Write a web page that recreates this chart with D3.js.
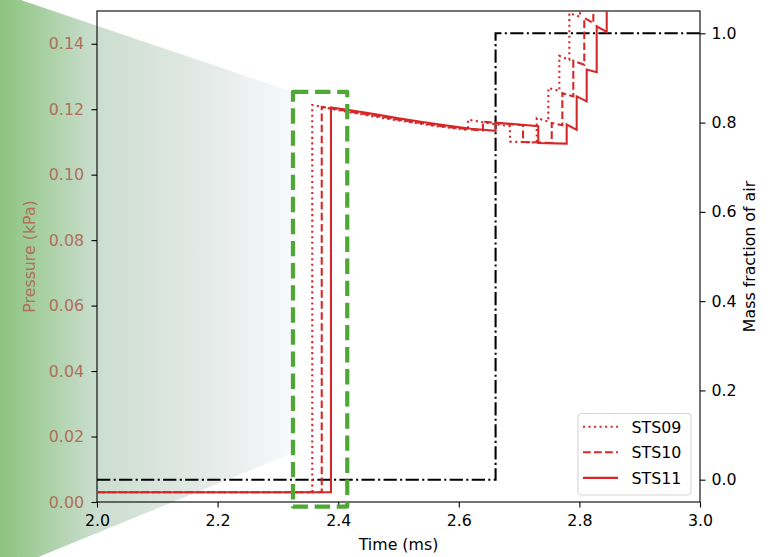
<!DOCTYPE html>
<html>
<head>
<meta charset="utf-8">
<script src="https://cdn.jsdelivr.net/npm/d3@7"></script>
<style>
  body { margin: 0; background: #fff; }
  svg { display: block; font-family: "DejaVu Sans", sans-serif; }
</style>
</head>
<body>
<div class="svg-container"></div>
<script>
// values
const timeTicks = [2.0, 2.2, 2.4, 2.6, 2.8, 3.0];
const pressureTicks = [0, 0.02, 0.04, 0.06, 0.08, 0.10, 0.12, 0.14];
const fractionTicks = [0, 0.2, 0.4, 0.6, 0.8, 1.0];

const seriesNames = ["STS09", "STS10", "STS11"];

const sts09Time = [2.0, 2.357, 2.357, 2.40, 2.44, 2.48, 2.52, 2.56, 2.60, 2.6153, 2.6153, 2.65, 2.6849, 2.6849, 2.7292, 2.7292, 2.7485, 2.7485, 2.7667, 2.7667, 2.7833, 2.7833, 2.801, 2.801, 3.0];
const sts09Pressure = [0.003, 0.003, 0.1213, 0.1197, 0.1184, 0.1171, 0.1160, 0.1149, 0.1140, 0.1137, 0.1168, 0.1157, 0.1148, 0.1101, 0.1098, 0.1173, 0.1162, 0.1265, 0.1256, 0.1363, 0.1351, 0.1494, 0.1482, 0.17, 0.17];

const sts10Time = [2.0, 2.3727, 2.3727, 2.42, 2.46, 2.50, 2.54, 2.58, 2.62, 2.640, 2.640, 2.68, 2.7065, 2.7065, 2.7541, 2.7541, 2.7717, 2.7717, 2.7899, 2.7899, 2.8081, 2.8081, 2.8231, 2.8231, 3.0];
const sts10Pressure = [0.003, 0.003, 0.1207, 0.1193, 0.1181, 0.1168, 0.1157, 0.1146, 0.1138, 0.1135, 0.1162, 0.1155, 0.1151, 0.1100, 0.1097, 0.1158, 0.1151, 0.1249, 0.1239, 0.1348, 0.1336, 0.1479, 0.1463, 0.17, 0.17];

const sts11Time = [2.0, 2.388, 2.388, 2.42, 2.46, 2.50, 2.54, 2.58, 2.62, 2.661, 2.661, 2.70, 2.7318, 2.7318, 2.7789, 2.7789, 2.7955, 2.7955, 2.8121, 2.8121, 2.8287, 2.8287, 2.8453, 2.8453, 3.0];
const sts11Pressure = [0.003, 0.003, 0.1205, 0.1197, 0.1185, 0.1172, 0.1161, 0.1150, 0.1140, 0.1134, 0.1159, 0.1153, 0.1148, 0.1097, 0.1095, 0.1153, 0.1137, 0.1239, 0.1224, 0.1321, 0.1313, 0.1453, 0.1436, 0.17, 0.17];

const airTime = [2.0, 2.661, 2.661, 3.0];
const airFraction = [0, 0, 1, 1];

// highlighted region and the fading wedge pointing at it
const zoomBoxTime = [2.325, 2.415];
const zoomBoxPressure = [-0.0014, 0.1253];
const wedgeTime = [1.839, 2.325, 2.325, 1.839];
const wedgePressure = [0.1555, 0.1253, 0.0150, -0.0216];

const width = 770, height = 557;
const margin = {top: 11, right: 70, bottom: 55, left: 97};
const red = "#d62728";
const brown = "#b0705a";
const fontSize = 15.8;

const svg = d3.select("div.svg-container").append("svg")
    .attr("width", width)
    .attr("height", height);

const x = d3.scaleLinear().domain([2.0, 3.0]).range([margin.left, width - margin.right]);
const y = d3.scaleLinear().domain([0, 0.15]).range([height - margin.bottom, margin.top]);
const y2 = d3.scaleLinear().domain([-0.05, 1.05]).range([height - margin.bottom, margin.top]);

// gradient wedge, drawn first so the axes sit on it
const grad = svg.append("defs").append("linearGradient")
    .attr("id", "fade")
    .attr("gradientUnits", "userSpaceOnUse")
    .attr("x1", x(wedgeTime[0])).attr("x2", x(wedgeTime[1]))
    .attr("y1", 0).attr("y2", 0);
grad.append("stop").attr("offset", 0).attr("stop-color", "#8cc47f");
grad.append("stop").attr("offset", 0.33).attr("stop-color", "#cbdecf");
grad.append("stop").attr("offset", 0.68).attr("stop-color", "#e2e9e6");
grad.append("stop").attr("offset", 1).attr("stop-color", "#f8f9fc");

svg.append("path")
    .datum(d3.zip(wedgeTime, wedgePressure))
    .attr("fill", "url(#fade)")
    .attr("d", d3.line().x(d => x(d[0])).y(d => y(d[1])).curve(d3.curveLinearClosed));

svg.append("clipPath").attr("id", "plot")
  .append("rect")
    .attr("x", margin.left).attr("y", margin.top)
    .attr("width", width - margin.left - margin.right)
    .attr("height", height - margin.top - margin.bottom);

// axes
const xAxisG = svg.append("g")
    .attr("transform", `translate(0, ${height - margin.bottom})`)
    .call(d3.axisBottom(x).tickValues(timeTicks).tickFormat(d3.format(".1f")).tickSize(5.5).tickPadding(7));

const yAxisG = svg.append("g")
    .attr("transform", `translate(${margin.left}, 0)`)
    .call(d3.axisLeft(y).tickValues(pressureTicks).tickFormat(d3.format(".2f")).tickSize(5.5).tickPadding(7.5));

const y2AxisG = svg.append("g")
    .attr("transform", `translate(${width - margin.right}, 0)`)
    .call(d3.axisRight(y2).tickValues(fractionTicks).tickFormat(d3.format(".1f")).tickSize(5.5).tickPadding(6));

[xAxisG, yAxisG, y2AxisG].forEach(g => {
    g.select(".domain").remove();
    g.selectAll(".tick line").attr("stroke", "#000").attr("stroke-width", 1.1);
    g.selectAll(".tick text").attr("font-size", fontSize).attr("fill", "#000")
        .attr("font-family", "DejaVu Sans, sans-serif");
});
yAxisG.selectAll(".tick text").attr("fill", brown);

// frame
svg.append("rect")
    .attr("x", margin.left).attr("y", margin.top)
    .attr("width", width - margin.left - margin.right)
    .attr("height", height - margin.top - margin.bottom)
    .attr("fill", "none").attr("stroke", "#000").attr("stroke-width", 1.1);

// axis labels
svg.append("text")
    .attr("x", (margin.left + width - margin.right) / 2).attr("y", 550)
    .attr("text-anchor", "middle").attr("font-size", fontSize)
    .text("Time (ms)");

svg.append("text")
    .attr("transform", `translate(35, ${(margin.top + height - margin.bottom) / 2}) rotate(-90)`)
    .attr("text-anchor", "middle").attr("font-size", fontSize).attr("fill", brown)
    .text("Pressure (kPa)");

svg.append("text")
    .attr("transform", `translate(755, ${(margin.top + height - margin.bottom) / 2}) rotate(-90)`)
    .attr("text-anchor", "middle").attr("font-size", fontSize)
    .text("Mass fraction of air");

// lines
const plotG = svg.append("g").attr("clip-path", "url(#plot)");

const pressureLine = d3.line().x(d => x(d[0])).y(d => y(d[1]));
const fractionLine = d3.line().x(d => x(d[0])).y(d => y2(d[1]));

const series = [
    {name: seriesNames[0], t: sts09Time, p: sts09Pressure, dash: "2.08,3.44"},
    {name: seriesNames[1], t: sts10Time, p: sts10Pressure, dash: "7.7,3.33"},
    {name: seriesNames[2], t: sts11Time, p: sts11Pressure, dash: null}
];

plotG.append("path")
    .datum(d3.zip(airTime, airFraction))
    .attr("fill", "none").attr("stroke", "#000").attr("stroke-width", 2.08)
    .attr("stroke-dasharray", "13.3,3.33,2.08,3.33")
    .attr("d", fractionLine);

series.forEach(s => {
    plotG.append("path")
        .datum(d3.zip(s.t, s.p))
        .attr("fill", "none").attr("stroke", red).attr("stroke-width", 2.08)
        .attr("stroke-dasharray", s.dash)
        .attr("d", pressureLine);
});

// legend
const legend = svg.append("g").attr("transform", "translate(578, 413.5)");
legend.append("rect")
    .attr("width", 113).attr("height", 81.5).attr("rx", 3.5)
    .attr("fill", "#fff").attr("fill-opacity", 0.8)
    .attr("stroke", "#d6d6d6").attr("stroke-width", 1.1);
series.forEach((s, i) => {
    const ly = 13.2 + i * 25.6;
    legend.append("line")
        .attr("x1", 5).attr("x2", 40).attr("y1", ly).attr("y2", ly)
        .attr("stroke", red).attr("stroke-width", 2.08)
        .attr("stroke-dasharray", s.dash);
    legend.append("text")
        .attr("x", 53.5).attr("y", ly + 5.8)
        .attr("font-size", fontSize)
        .text(s.name);
});

// highlight box
svg.append("rect")
    .attr("x", x(zoomBoxTime[0])).attr("y", y(zoomBoxPressure[1]))
    .attr("width", x(zoomBoxTime[1]) - x(zoomBoxTime[0]))
    .attr("height", y(zoomBoxPressure[0]) - y(zoomBoxPressure[1]))
    .attr("fill", "none").attr("stroke", "#4fa836").attr("stroke-width", 4.2)
    .attr("stroke-linejoin", "round")
    .attr("stroke-dasharray", "15.4,6.7");
</script>
</body>
</html>
